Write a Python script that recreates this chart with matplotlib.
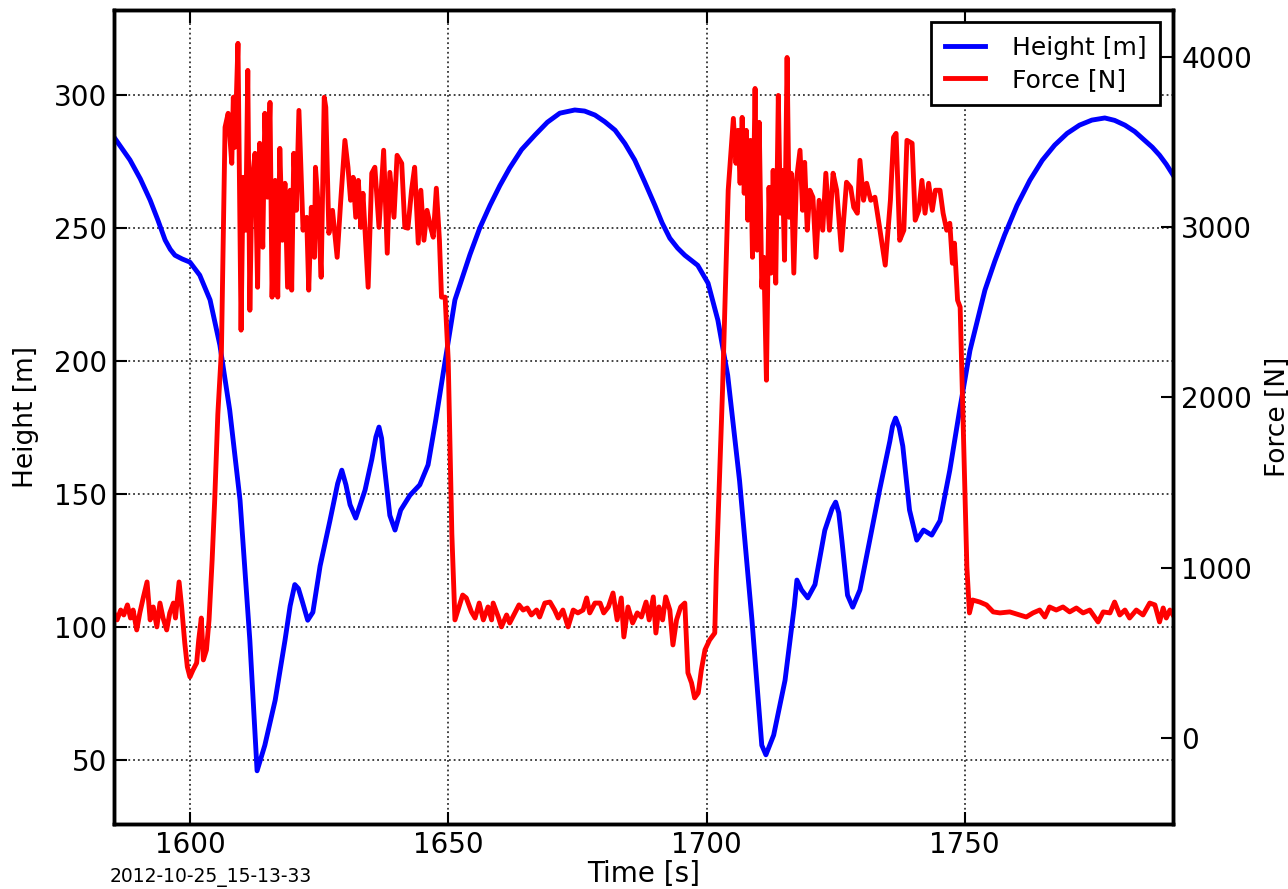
import matplotlib
matplotlib.use("Agg")
import matplotlib.pyplot as plt

# Height of the kite [m]
t_height = [1585.3, 1588.4, 1590.4, 1592.3, 1593.8, 1595.2, 1596.2, 1597.1, 1598.5, 1600.0,
            1601.9, 1603.9, 1605.8, 1607.7, 1609.7, 1611.6, 1613.0, 1614.5, 1616.5, 1618.4,
            1619.4, 1620.3, 1621.0, 1621.7, 1622.8, 1623.8, 1625.2, 1627.1, 1628.6, 1629.4,
            1630.2, 1631.0, 1632.1, 1633.9, 1635.2, 1636.0, 1636.6, 1637.1, 1637.5, 1638.7,
            1639.7, 1640.8, 1642.6, 1644.5, 1646.1, 1647.6, 1649.4, 1651.3, 1654.2, 1656.1,
            1658.1, 1660.0, 1661.9, 1664.2, 1666.8, 1669.2, 1671.6, 1674.5, 1676.4, 1678.4,
            1680.3, 1682.3, 1684.2, 1686.1, 1688.0, 1690.0, 1691.4, 1692.9, 1694.4, 1695.8,
            1698.3, 1700.3, 1702.2, 1704.1, 1706.4, 1708.8, 1710.7, 1711.5, 1713.0, 1715.2,
            1717.0, 1717.5, 1718.4, 1719.6, 1721.0, 1722.9, 1724.3, 1725.0, 1725.6, 1726.2,
            1727.3, 1728.3, 1729.7, 1731.6, 1733.5, 1735.5, 1736.0, 1736.6, 1737.3, 1738.0,
            1739.3, 1740.7, 1742.0, 1743.6, 1745.2, 1747.1, 1749.0, 1751.0, 1753.9, 1755.8,
            1757.7, 1760.1, 1762.6, 1765.0, 1767.4, 1769.8, 1772.2, 1774.6, 1777.1, 1779.0,
            1781.0, 1782.9, 1784.8, 1786.3, 1787.7, 1789.0, 1790.3]
height = [284.2, 275.6, 268.5, 260.5, 253.0, 245.5, 242.0, 239.8, 238.4, 237.2,
          232.3, 223.0, 206.0, 181.6, 147.7, 95.0, 46.0, 55.6, 72.5, 95.0,
          108.0, 116.0, 114.5, 110.0, 102.6, 105.6, 123.0, 140.0, 154.0, 159.0,
          153.5, 146.0, 141.0, 151.5, 163.0, 171.5, 175.2, 171.0, 163.0, 142.0,
          136.5, 144.0, 149.6, 153.5, 161.0, 178.0, 200.0, 223.0, 240.0, 250.0,
          258.6, 266.0, 272.6, 279.5, 285.0, 289.8, 293.2, 294.4, 294.0, 292.5,
          290.0, 286.8, 281.8, 275.6, 267.5, 258.6, 252.0, 246.2, 242.5, 239.8,
          236.0, 229.3, 215.4, 194.7, 155.0, 102.6, 55.6, 52.0, 59.4, 80.0,
          108.0, 117.7, 114.0, 111.0, 116.0, 136.4, 144.5, 147.0, 143.0, 132.7,
          112.0, 107.5, 114.0, 132.7, 151.5, 170.0, 175.5, 178.6, 175.0, 168.0,
          144.0, 132.7, 136.5, 134.6, 140.0, 159.0, 181.6, 204.0, 226.7, 237.5,
          247.4, 258.5, 268.0, 275.5, 281.2, 285.6, 288.7, 290.6, 291.4, 290.5,
          288.7, 286.3, 283.0, 280.4, 277.4, 274.0, 270.0]

# Tether force [N]
t_force = [1585.3, 1585.9, 1586.6, 1587.2, 1587.9, 1588.5, 1589.0, 1589.7, 1590.3, 1591.0,
           1591.7, 1592.3, 1592.9, 1593.6, 1594.2, 1594.8, 1595.5, 1596.1, 1596.8, 1597.2,
           1597.9, 1598.4, 1599.0, 1599.5, 1600.0, 1600.6, 1601.3, 1601.7, 1602.2, 1602.6,
           1603.2, 1603.7, 1604.3, 1604.8, 1605.4, 1606.1, 1606.8, 1607.4, 1608.1, 1608.4,
           1608.7, 1609.3, 1609.9, 1610.3, 1610.8, 1611.2, 1611.6, 1612.0, 1612.6, 1613.1,
           1613.5, 1614.1, 1614.5, 1615.0, 1615.5, 1615.9, 1616.5, 1617.0, 1617.4, 1617.9,
           1618.4, 1618.9, 1619.4, 1619.7, 1620.1, 1620.6, 1621.1, 1621.5, 1621.9, 1622.6,
           1623.0, 1623.5, 1624.1, 1624.3, 1624.8, 1625.4, 1626.0, 1626.3, 1626.9, 1627.6,
           1628.5, 1629.2, 1630.0, 1630.6, 1631.1, 1631.6, 1632.1, 1632.6, 1633.1, 1633.5,
           1634.5, 1635.2, 1635.8, 1636.6, 1637.5, 1638.2, 1638.7, 1639.5, 1640.1, 1641.0,
           1641.6, 1642.2, 1642.9, 1643.5, 1644.2, 1644.7, 1645.3, 1645.9, 1646.6, 1647.1,
           1647.7, 1648.3, 1648.7, 1649.4, 1650.0, 1650.7, 1651.3, 1651.9, 1652.8, 1653.5,
           1654.5, 1655.2, 1656.0, 1656.8, 1657.7, 1658.4, 1658.7, 1659.7, 1660.3, 1661.3,
           1661.9, 1662.9, 1663.7, 1664.5, 1665.3, 1666.1, 1667.1, 1667.7, 1668.7, 1669.7,
           1670.6, 1671.3, 1672.2, 1673.2, 1674.2, 1675.1, 1676.1, 1676.8, 1677.4, 1678.4,
           1679.4, 1680.1, 1681.0, 1681.9, 1682.7, 1683.5, 1684.0, 1684.8, 1685.7, 1686.6,
           1687.4, 1688.3, 1688.9, 1689.7, 1690.2, 1690.8, 1691.5, 1692.1, 1692.9, 1693.5,
           1694.2, 1695.0, 1695.8, 1696.4, 1697.1, 1697.7, 1698.4, 1699.0, 1699.7, 1700.6,
           1701.6, 1701.9, 1703.1, 1704.2, 1705.2, 1705.7, 1706.1, 1706.5, 1706.9, 1707.3,
           1707.7, 1708.0, 1708.5, 1708.9, 1709.4, 1709.8, 1710.2, 1710.7, 1711.1, 1711.6,
           1712.1, 1712.5, 1712.9, 1713.4, 1713.9, 1714.3, 1714.7, 1715.1, 1715.6, 1716.0,
           1716.4, 1716.9, 1717.4, 1718.1, 1718.6, 1719.0, 1719.5, 1720.0, 1720.6, 1721.2,
           1721.8, 1722.5, 1723.1, 1723.8, 1724.5, 1725.2, 1726.1, 1727.1, 1727.9, 1728.5,
           1729.2, 1729.7, 1730.4, 1731.0, 1731.8, 1732.6, 1733.5, 1734.6, 1735.6, 1736.2,
           1736.7, 1737.4, 1738.2, 1738.8, 1739.8, 1740.4, 1741.1, 1741.7, 1742.3, 1743.0,
           1743.7, 1744.3, 1745.2, 1745.8, 1746.5, 1747.1, 1747.6, 1748.0, 1748.6, 1749.1,
           1749.4, 1749.9, 1750.4, 1750.9, 1751.5, 1752.9, 1754.2, 1755.5, 1756.8, 1758.7,
           1760.6, 1761.9, 1763.2, 1764.5, 1765.5, 1766.4, 1767.7, 1769.0, 1770.3, 1771.6,
           1772.9, 1774.2, 1775.8, 1776.8, 1778.1, 1779.0, 1780.0, 1781.0, 1781.9, 1783.2,
           1784.5, 1785.8, 1786.8, 1787.7, 1788.4, 1789.0, 1789.7, 1790.3]
force = [734, 693, 751, 722, 781, 704, 751, 634, 734, 828,
         916, 693, 769, 652, 792, 704, 634, 734, 792, 704,
         916, 769, 558, 417, 358, 399, 440, 575, 704, 458,
         517, 693, 1045, 1400, 1900, 2278, 3587, 3669, 3375, 3763,
         3469, 4080, 2395, 3293, 2982, 3921, 2512, 3258, 3434, 2647,
         3493, 2882, 3669, 3176, 3733, 2589, 3275, 2589, 3463, 2923,
         3258, 2647, 3217, 2630, 3434, 3099, 3686, 3334, 2982, 3058,
         2630, 3117, 2823, 3352, 3140, 2706, 3763, 3704, 2964, 3099,
         2823, 3158, 3510, 3352, 3158, 3293, 3058, 3275, 2999, 3199,
         2647, 3317, 3352, 2999, 3452, 2847, 3322, 3058, 3422, 3375,
         2999, 2994, 3217, 3352, 2906, 3217, 2923, 3099, 2999, 2941,
         3229, 2923, 2589, 2589, 2219, 1200, 693, 751, 839, 822,
         740, 704, 792, 693, 769, 693, 792, 710, 652, 722,
         675, 734, 781, 751, 763, 722, 751, 710, 792, 798,
         751, 704, 751, 652, 751, 734, 751, 822, 734, 792,
         792, 734, 769, 851, 693, 822, 593, 769, 675, 734,
         710, 798, 693, 828, 616, 769, 693, 828, 751, 546,
         693, 769, 792, 382, 323, 235, 264, 399, 517, 575,
         616, 986, 2043, 3217, 3639, 3375, 3569, 3258, 3645, 3199,
         3569, 3041, 3510, 2823, 3815, 2865, 3616, 2647, 2823, 2101,
         3234, 2730, 3334, 2671, 3774, 3082, 3334, 2806, 3997, 3058,
         3317, 2730, 3275, 3452, 3099, 3381, 2982, 3217, 3176, 2823,
         3158, 2982, 3317, 2982, 3317, 3217, 2865, 3264, 3234, 3117,
         3082, 3393, 3158, 3258, 3158, 3176, 2999, 2777, 3158, 3528,
         3551, 2923, 2982, 3510, 3493, 3041, 3099, 3275, 3082, 3258,
         3099, 3217, 3217, 3082, 2982, 3023, 2788, 2906, 2571, 2530,
         2178, 1591, 1004, 734, 810, 798, 781, 740, 734, 740,
         722, 710, 734, 751, 710, 769, 751, 769, 740, 763,
         734, 751, 681, 740, 734, 798, 722, 751, 704, 751,
         722, 792, 781, 681, 763, 704, 751, 722]

stamp = "2012-10-25_15-13-33"

fig = plt.figure(figsize=(12.88, 8.89), dpi=100)
ax = fig.add_axes([0.0885, 0.0731, 0.8222, 0.9157])
ax2 = ax.twinx()

l1, = ax.plot(t_height, height, color='blue', lw=3.5, label='Height [m]')
l2, = ax2.plot(t_force, force, color='red', lw=3.5, label='Force [N]')

ax.set_xlim(1585.3, 1790.3)
ax.set_ylim(26, 332)
ax2.set_ylim(-506, 4276)
ax.set_xticks([1600, 1650, 1700, 1750])
ax.set_yticks([50, 100, 150, 200, 250, 300])
ax2.set_yticks([0, 1000, 2000, 3000, 4000])

ax.grid(True, linestyle=':', color='#333333', lw=1.3)
ax.tick_params(direction='in', length=9, width=1.5, labelsize=20, top=True, pad=5)
ax2.tick_params(direction='in', length=9, width=1.5, labelsize=20, pad=6)
for a in (ax, ax2):
    for s in a.spines.values():
        s.set_linewidth(2.5)

ax.set_xlabel("Time [s]", fontsize=20, labelpad=1)
ax.set_ylabel("Height [m]", fontsize=19, labelpad=11)
ax2.set_ylabel("Force [N]", fontsize=19, labelpad=9)

leg = ax2.legend([l1, l2], ['Height [m]', 'Force [N]'], loc='upper right', fontsize=18,
                 fancybox=False, framealpha=1, edgecolor='black', handlelength=1.6,
                 handletextpad=1.1, borderpad=0.55, borderaxespad=0.5, labelspacing=0.3)
leg.get_frame().set_linewidth(2)

fig.text(0.085, 0.008, stamp, fontsize=13.5)

fig.savefig("out.png", dpi=100)
